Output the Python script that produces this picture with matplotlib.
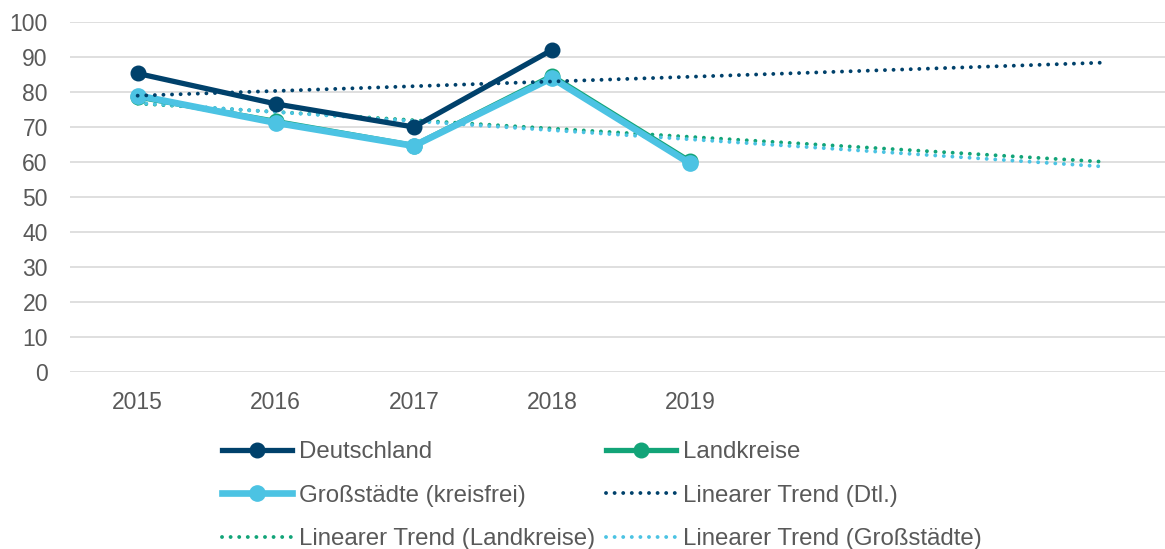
import numpy as np
from matplotlib import pyplot as plt

years = ["2015", "2016", "2017", "2018", "2019"]
deutschland = [85.3, 76.6, 70.0, 92.0]
landkreise = [78.6, 71.6, 64.7, 84.6, 60.2]
grossstaedte = [79.0, 71.2, 64.6, 84.0, 59.6]
forecast_periods = 3

C_DTL = "#00416b"
C_LK = "#12a478"
C_GS = "#4cc3e3"
C_TEXT = "#595959"
C_GRID = "#d9d9d9"

DOTS = (0, (0.01, 2.2))


def trend(values, n_forward):
    x = np.arange(len(values))
    slope, icpt = np.polyfit(x, values, 1)
    xt = np.array([0, len(values) - 1 + n_forward])
    return xt, icpt + slope * xt


def main():
    plt.rcParams["font.family"] = ["Liberation Sans", "DejaVu Sans"]
    fig = plt.figure(figsize=(11.65, 5.49), dpi=100)
    ax = fig.add_axes([70 / 1165, 1 - 372 / 549, 1 - 70 / 1165, 350 / 549])

    ax.set_ylim(0, 100)
    ax.set_yticks(range(0, 101, 10))
    ax.set_xticks(range(len(years)))
    ax.set_xticklabels(years)
    ax.set_xlim(-0.49, 7.44)
    ax.grid(axis="y", color=C_GRID, linewidth=1.2)
    ax.set_axisbelow(True)
    for s in ax.spines.values():
        s.set_visible(False)
    ax.tick_params(length=0, labelsize=16.5, labelcolor=C_TEXT)
    ax.tick_params(axis="y", pad=16)
    ax.tick_params(axis="x", pad=14)

    h_dtl, = ax.plot(range(len(deutschland)), deutschland, color=C_DTL, lw=3.8,
                     marker="o", ms=10.5, label="Deutschland", zorder=4)
    h_lk, = ax.plot(range(len(landkreise)), landkreise, color=C_LK, lw=3.8,
                    marker="o", ms=10.5, label="Landkreise", zorder=3)
    h_gs, = ax.plot(range(len(grossstaedte)), grossstaedte, color=C_GS, lw=4.8,
                    marker="o", ms=11, label="Großstädte (kreisfrei)", zorder=3.5)

    xt, yt = trend(deutschland, forecast_periods + 1)
    t_dtl, = ax.plot(xt, yt, color=C_DTL, lw=2.8, ls=DOTS, dash_capstyle="round",
                     label="Linearer Trend (Dtl.)", zorder=5)
    xt, yt = trend(landkreise, forecast_periods)
    t_lk, = ax.plot(xt, yt, color=C_LK, lw=2.8, ls=DOTS, dash_capstyle="round",
                    label="Linearer Trend (Landkreise)", zorder=2)
    xt, yt = trend(grossstaedte, forecast_periods)
    t_gs, = ax.plot(xt, yt, color=C_GS, lw=2.8, ls=DOTS, dash_capstyle="round",
                    label="Linearer Trend (Großstädte)", zorder=2.5)

    handles = [h_dtl, h_gs, t_lk, h_lk, t_dtl, t_gs]
    leg = fig.legend(handles, [h.get_label() for h in handles], ncol=2,
                     loc="upper left", bbox_to_anchor=(222 / 1165, 1 - 441 / 549),
                     frameon=False, fontsize=17.3, handlelength=2.9,
                     handletextpad=0.3, columnspacing=0.45, labelspacing=0.9,
                     borderpad=0, borderaxespad=0)
    for t in leg.get_texts():
        t.set_color(C_TEXT)

    fig.savefig("out.png", dpi=100)


if __name__ == "__main__":
    main()
